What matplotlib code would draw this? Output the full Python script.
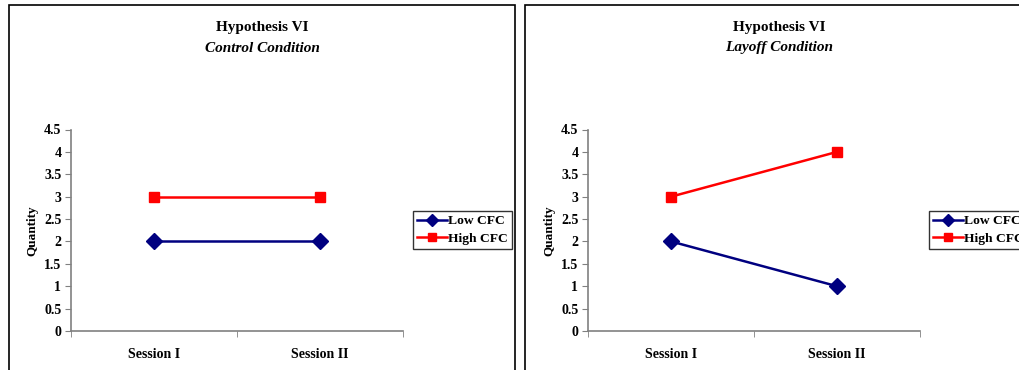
import matplotlib
matplotlib.use("Agg")
import matplotlib.pyplot as plt
from matplotlib.patches import Rectangle

plt.rcParams['font.family'] = ['Liberation Serif', 'DejaVu Serif']

sessions = ["Session I", "Session II"]
control_low = [2, 2]
control_high = [3, 3]
layoff_low = [2, 1]
layoff_high = [3, 4]
titles = ["Hypothesis VI", "Hypothesis VI"]
subtitles = ["Control Condition", "Layoff Condition"]
yticks = [0, 0.5, 1, 1.5, 2, 2.5, 3, 3.5, 4, 4.5]
ytick_labels = ["0", "0.5", "1", "1.5", "2", "2.5", "3", "3.5", "4", "4.5"]
series_names = ["Low CFC", "High CFC"]

W, H = 1020, 370
fig = plt.figure(figsize=(W / 100, H / 100), dpi=100)

panels = [
    dict(frame_x=9, frame_w=506, ax_x=71, title_x=262, leg_x=413,
         low=control_low, high=control_high),
    dict(frame_x=525, frame_w=506, ax_x=588, title_x=779, leg_x=929,
         low=layoff_low, high=layoff_high),
]

axis_col = "#808080"
for i, p in enumerate(panels):
    # chart frame
    fig.add_artist(Rectangle((p['frame_x'] / W, -0.2), p['frame_w'] / W, 1.2 - 4.5 / H,
                             transform=fig.transFigure, fill=False,
                             edgecolor="black", linewidth=1.2, clip_on=False))
    ax = fig.add_axes([p['ax_x'] / W, 1 - 331 / H, 332 / W, (331 - 129.5) / H])
    x = list(range(len(sessions)))
    ax.plot(x, p['low'], color="#000080", linewidth=1.8, marker="D",
            markersize=8, label=series_names[0])
    ax.plot(x, p['high'], color="#FF0000", linewidth=1.8, marker="s",
            markersize=7.5, label=series_names[1])
    ax.set_xlim(-0.5, len(sessions) - 0.5)
    ax.set_ylim(0, 4.5)
    ax.set_yticks(yticks)
    ax.set_yticklabels(ytick_labels, fontsize=10, fontweight="bold")
    ax.set_xticks(x)
    ax.set_xticklabels(sessions, fontsize=10, fontweight="bold")
    ax.set_xticks([-0.5, 0.5, 1.5], minor=True)
    ax.tick_params(axis="x", which="major", length=0, pad=12)
    ax.tick_params(axis="x", which="minor", length=4, direction="out", color=axis_col)
    ax.tick_params(axis="y", length=4, direction="out", color=axis_col, pad=3)
    for s in ["top", "right"]:
        ax.spines[s].set_visible(False)
    for s in ["left", "bottom"]:
        ax.spines[s].set_color(axis_col)
        ax.spines[s].set_linewidth(1.2)
    ax.set_ylabel("Quantity", fontsize=9.5, fontweight="bold", labelpad=4)
    for t in ax.get_xticklabels() + ax.get_yticklabels():
        t.set_clip_on(False)

    fig.text(p['title_x'] / W, 1 - 27 / H, titles[i], ha="center", va="center",
             fontsize=11, fontweight="bold")
    fig.text(p['title_x'] / W, 1 - 48 / H, subtitles[i], ha="center", va="center",
             fontsize=11, fontweight="bold", fontstyle="italic")

    leg = ax.legend(loc="upper left", bbox_to_anchor=(p['leg_x'] / W, 1 - 211 / H),
                    bbox_transform=fig.transFigure, frameon=True, fancybox=False,
                    prop=dict(size=9.7, weight="bold"), handlelength=2.2,
                    handletextpad=0.1, borderpad=0.3, labelspacing=0.35,
                    borderaxespad=0, markerscale=0.8)
    leg.get_frame().set_edgecolor("black")
    leg.get_frame().set_linewidth(1.0)
    leg.set_clip_on(False)

fig.savefig("out.png", dpi=100)
